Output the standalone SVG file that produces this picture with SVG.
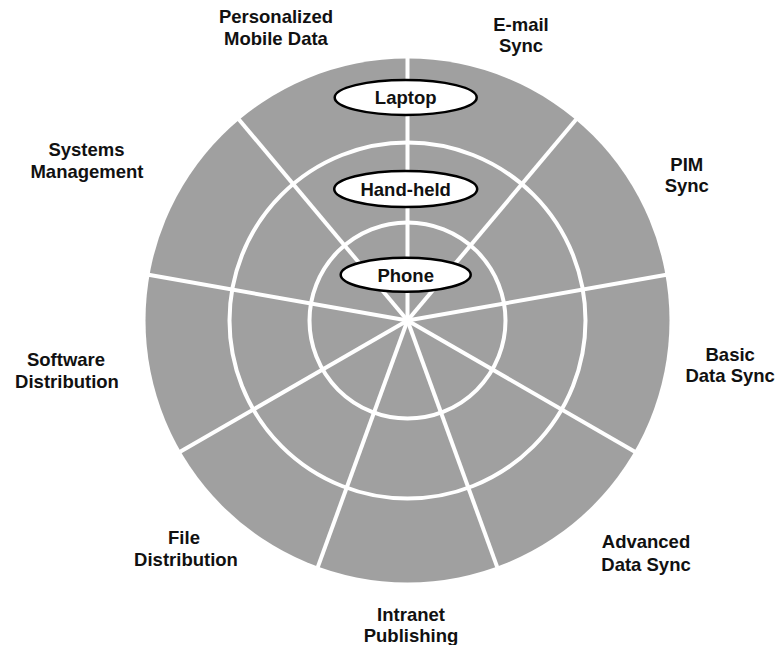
<svg xmlns="http://www.w3.org/2000/svg" width="780" height="645" viewBox="0 0 780 645">
<style>
.lbl{font-family:"Liberation Sans",Arial,Helvetica,sans-serif;font-weight:bold;font-size:18.5px;fill:#111;text-anchor:middle}
.ring{fill:none;stroke:#fff;stroke-width:4}
.spoke{stroke:#fff;stroke-width:4;stroke-linecap:butt}
.node ellipse{fill:#fff;stroke:#000;stroke-width:2.5}
</style>
<rect width="780" height="645" fill="#fff"/>
<g id="wheel">
<circle cx="407.5" cy="320.5" r="262" fill="#a0a0a0"/>
<circle class="ring" cx="407.5" cy="320.5" r="178"/>
<circle class="ring" cx="407.5" cy="320.5" r="98"/>
</g>
<g id="connectors">
<line class="spoke" x1="407.5" y1="320.5" x2="407.5" y2="57.5"/>
<line class="spoke" x1="407.5" y1="320.5" x2="576.5" y2="119"/>
<line class="spoke" x1="407.5" y1="320.5" x2="666.5" y2="274.8"/>
<line class="spoke" x1="407.5" y1="320.5" x2="635.3" y2="452"/>
<line class="spoke" x1="407.5" y1="320.5" x2="497.4" y2="567.6"/>
<line class="spoke" x1="407.5" y1="320.5" x2="317.6" y2="567.6"/>
<line class="spoke" x1="407.5" y1="320.5" x2="179.7" y2="452"/>
<line class="spoke" x1="407.5" y1="320.5" x2="148.5" y2="274.8"/>
<line class="spoke" x1="407.5" y1="320.5" x2="238.5" y2="119"/>
</g>
<g id="laptop" class="node">
<ellipse cx="405.7" cy="97.5" rx="71" ry="17.5"/>
<text class="lbl" x="405.7" y="104">Laptop</text>
</g>
<g id="handheld" class="node">
<ellipse cx="405.7" cy="189" rx="71.5" ry="18"/>
<text class="lbl" x="405.7" y="195.8">Hand-held</text>
</g>
<g id="phone" class="node">
<ellipse cx="405.7" cy="274.7" rx="65" ry="17"/>
<text class="lbl" x="405.7" y="281.5">Phone</text>
</g>
<g id="personalized">
<text class="lbl" x="276" y="22.7">Personalized</text>
<text class="lbl" x="276" y="44.5">Mobile Data</text>
</g>
<g id="email">
<text class="lbl" x="521" y="30.7">E-mail</text>
<text class="lbl" x="521" y="52">Sync</text>
</g>
<g id="pim">
<text class="lbl" x="686.8" y="170.7">PIM</text>
<text class="lbl" x="686.8" y="192.3">Sync</text>
</g>
<g id="basic">
<text class="lbl" x="730.2" y="360.7">Basic</text>
<text class="lbl" x="730.2" y="382.3">Data Sync</text>
</g>
<g id="advanced">
<text class="lbl" x="646" y="548.3">Advanced</text>
<text class="lbl" x="646" y="570.5">Data Sync</text>
</g>
<g id="intranet">
<text class="lbl" x="411" y="620.7">Intranet</text>
<text class="lbl" x="411" y="642">Publishing</text>
</g>
<g id="file">
<text class="lbl" x="184" y="544">File</text>
<text class="lbl" x="186" y="566">Distribution</text>
</g>
<g id="software">
<text class="lbl" x="66" y="366">Software</text>
<text class="lbl" x="67" y="388">Distribution</text>
</g>
<g id="systems">
<text class="lbl" x="86.5" y="156">Systems</text>
<text class="lbl" x="87" y="177.7">Management</text>
</g>
</svg>
